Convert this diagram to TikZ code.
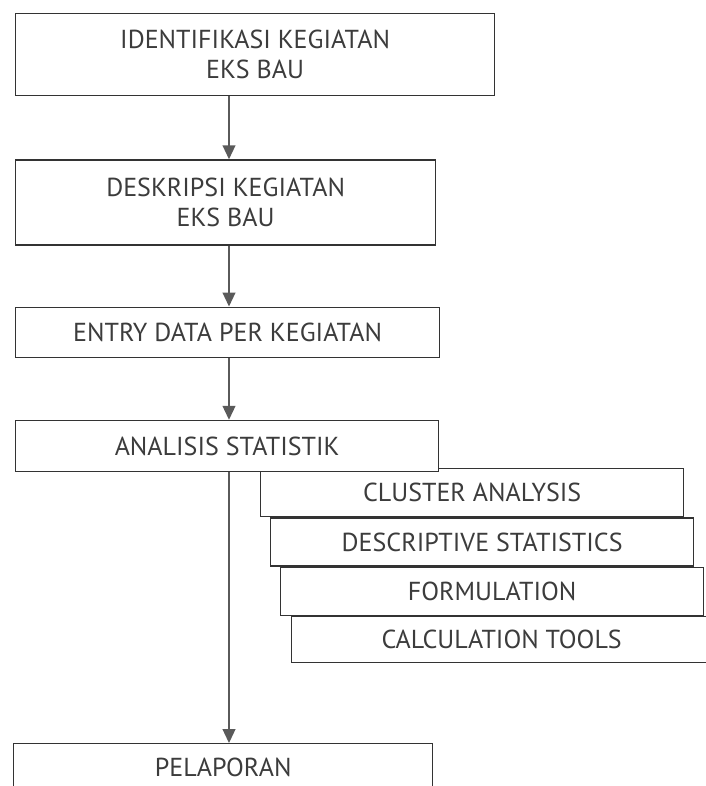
\documentclass[tikz,border=0pt]{standalone}
\usepackage{fontspec}
\setmainfont{PT Sans}
\usetikzlibrary{arrows.meta,positioning,backgrounds}
\definecolor{boxline}{HTML}{333333}
\definecolor{arrowgrey}{HTML}{5A5A5A}
\definecolor{textgrey}{HTML}{3C3C3C}
\tikzset{
  flowbox/.style={rectangle,draw=boxline,line width=0.9pt,fill=white,align=center,inner sep=0pt,font=\fontsize{18.5}{21.5}\selectfont,text=textgrey},
  stackbox/.style={flowbox,minimum width=10.575cm,minimum height=1.2cm},
  arrow/.style={-{Triangle[length=3.5mm,width=3.2mm]},line width=1.2pt,draw=arrowgrey}
}
\begin{document}
\begin{tikzpicture}[node distance=1.55cm]
  \useasboundingbox (0,0) rectangle (17.625,-19.65);
  \clip (0,0) rectangle (17.625,-19.65);
  \coordinate (spine) at (5.725,0);

  \node[flowbox, minimum width=11.975cm, minimum height=2.05cm, anchor=north west] (ident) at (0.375,-0.325) {IDENTIFIKASI KEGIATAN\\EKS BAU};
  \node[flowbox, minimum width=10.5cm, minimum height=2.125cm, below=1.575cm of ident.south west, anchor=north west] (deskripsi) {DESKRIPSI KEGIATAN\\EKS BAU};
  \node[flowbox, minimum width=10.6cm, minimum height=1.25cm, below=1.525cm of deskripsi.south west, anchor=north west] (entry) {ENTRY DATA PER KEGIATAN};
  \node[flowbox, minimum width=10.575cm, minimum height=1.275cm, below=of entry.south west, anchor=north west] (analisis) {ANALISIS STATISTIK};
  \node[flowbox, minimum width=10.475cm, minimum height=1.2cm, below=6.775cm of analisis.south west, xshift=-0.05cm, anchor=north west] (pelaporan) {PELAPORAN};

  % tools of the analysis, stacked behind it
  \begin{scope}[on background layer]
    \node[stackbox, anchor=north west] (cluster) at ([xshift=6.125cm,yshift=0.1cm]analisis.south west) {CLUSTER ANALYSIS};
    \node[stackbox, anchor=north west] (descstat) at ([xshift=0.25cm]cluster.south west) {DESCRIPTIVE STATISTICS};
    \node[stackbox, anchor=north west] (formula) at ([xshift=0.25cm]descstat.south west) {FORMULATION};
    \node[stackbox, minimum width=10.5cm, minimum height=1.15cm, anchor=north west] (calctools) at ([xshift=0.275cm]formula.south west) {CALCULATION TOOLS};
  \end{scope}

  \draw[arrow] (spine |- ident.south) -- (spine |- deskripsi.north);
  \draw[arrow] (spine |- deskripsi.south) -- (spine |- entry.north);
  \draw[arrow] (spine |- entry.south) -- (spine |- analisis.north);
  \draw[arrow] (spine |- analisis.south) -- (spine |- pelaporan.north);
\end{tikzpicture}
\end{document}
